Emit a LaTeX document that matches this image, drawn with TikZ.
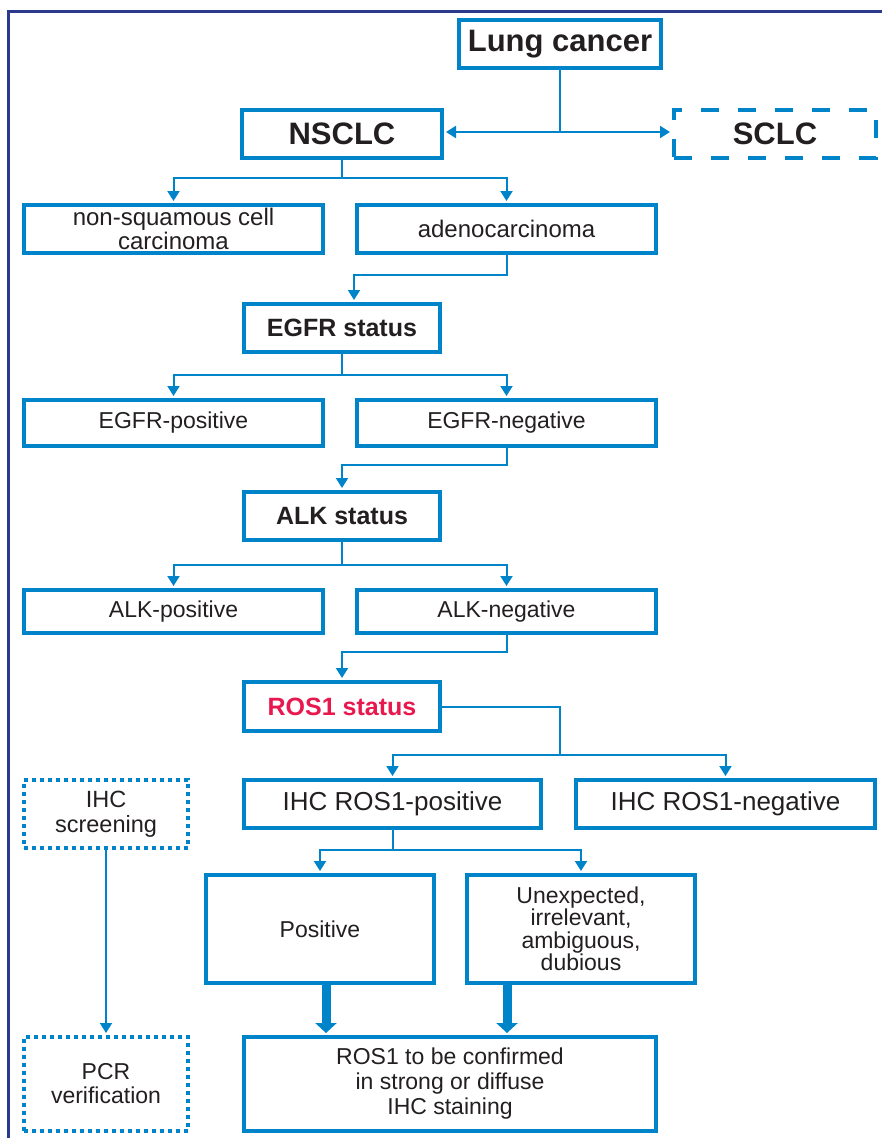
\documentclass[tikz,border=0pt]{standalone}
\usepackage{fontspec}
\setmainfont{Liberation Sans}
\usetikzlibrary{arrows.meta}
\definecolor{bl}{RGB}{0,132,201}
\definecolor{navy}{RGB}{43,58,140}
\definecolor{rosred}{RGB}{232,23,78}
\definecolor{txt}{RGB}{35,31,32}
\begin{document}
\begin{tikzpicture}[x=1pt,y=-1pt,
  box/.style={draw=bl, line width=4pt, inner sep=0pt, align=center, text=txt,
    font=\fontsize{23}{24}\selectfont},
  bbox/.style={box, font=\fontsize{25}{26}\selectfont\bfseries},
  hbox/.style={box, font=\fontsize{31}{32}\selectfont\bfseries},
  dashbox/.style={hbox, dash pattern=on 18pt off 19pt},
  dotbox/.style={box, dash pattern=on 4pt off 4pt},
  line/.style={draw=bl, line width=2pt},
  conn/.style={draw=bl, line width=2pt, shorten >=2pt, -{Triangle[length=10pt,width=12pt]}},
  fat/.style={draw=bl, line width=9pt, shorten >=2pt, -{Triangle[length=10pt,width=21pt]}},
]
\useasboundingbox (0,0) rectangle (882,1138);
\draw[navy, line width=3pt] (8,1142) -- (8,11.5) -- (886,11.5);

% nodes
\node[hbox, minimum width=202, minimum height=48] (lung) at (560,44) {Lung cancer};
\node[hbox, minimum width=200, minimum height=48] (nsclc) at (342,134) {NSCLC};
\node[dashbox, minimum width=202, minimum height=48] (sclc) at (775,134) {SCLC};
\node[box, minimum width=299, minimum height=48, font=\fontsize{24}{24}\selectfont] (nonsq) at (173.5,229) {non-squamous cell\\carcinoma};
\node[box, minimum width=299, minimum height=48, font=\fontsize{24}{24}\selectfont] (adeno) at (506.5,229) {adenocarcinoma};
\node[bbox, minimum width=196, minimum height=48] (egfr) at (342,328) {EGFR status};
\node[box, minimum width=299, minimum height=46] (egfrpos) at (173.5,423) {EGFR-positive};
\node[box, minimum width=299, minimum height=46] (egfrneg) at (506.5,423) {EGFR-negative};
\node[bbox, minimum width=196, minimum height=48] (alk) at (342,516) {ALK status};
\node[box, minimum width=299, minimum height=43] (alkpos) at (173.5,611.5) {ALK-positive};
\node[box, minimum width=299, minimum height=43] (alkneg) at (506.5,611.5) {ALK-negative};
\node[bbox, minimum width=196, minimum height=49, text=rosred] (ros) at (342,706.5) {ROS1 status};
\node[box, minimum width=297, minimum height=48, font=\fontsize{26}{26}\selectfont] (ihcpos) at (392.5,804) {IHC ROS1-positive};
\node[box, minimum width=299, minimum height=48, font=\fontsize{26}{26}\selectfont] (ihcneg) at (725.5,804) {IHC ROS1-negative};
\node[box, minimum width=228, minimum height=108] (pos) at (320,929) {Positive};
\node[box, minimum width=228, minimum height=108, font=\fontsize{23}{22.5}\selectfont] (unexp) at (581,929) {Unexpected,\\irrelevant,\\ambiguous,\\dubious};
\node[box, minimum width=412, minimum height=94, font=\fontsize{23}{25}\selectfont] (conf) at (450,1084) {ROS1 to be confirmed\\in strong or diffuse\\IHC staining};
\node[dotbox, minimum width=164, minimum height=68, font=\fontsize{23.5}{25}\selectfont] (ihcscr) at (106,814) {IHC\\screening};
\node[dotbox, minimum width=164, minimum height=94, font=\fontsize{23}{24}\selectfont] (pcr) at (106,1084) {PCR\\verification};

% connectors
\coordinate (j1) at (560,132);
\draw[line] (lung.south) -- (j1);
\draw[conn] (j1) -- (nsclc.east |- j1);
\draw[conn] (j1) -- (sclc.west |- j1);

\draw[line] (nsclc.south) -- ++(0,18) coordinate (j2);
\draw[conn] (j2) -| (nonsq.north);
\draw[conn] (j2) -| (adeno.north);

\draw[conn] (adeno.south) -- ++(0,20) -| ([xshift=12pt]egfr.north);

\draw[line] (egfr.south) -- ++(0,21) coordinate (j3);
\draw[conn] (j3) -| (egfrpos.north);
\draw[conn] (j3) -| (egfrneg.north);

\draw[conn] (egfrneg.south) -- ++(0,17) -| (alk.north);

\draw[line] (alk.south) -- ++(0,23) coordinate (j4);
\draw[conn] (j4) -| (alkpos.north);
\draw[conn] (j4) -| (alkneg.north);

\draw[conn] (alkneg.south) -- ++(0,17) -| (ros.north);

\coordinate (j5) at (560,755);
\draw[line] (ros.east) -| (j5);
\draw[conn] (j5) -| (ihcpos.north);
\draw[conn] (j5) -| (ihcneg.north);

\draw[line] (ihcpos.south) -- ++(0,20) coordinate (j6);
\draw[conn] (j6) -| (pos.north);
\draw[conn] (j6) -| (unexp.north);

\draw[fat] ([xshift=6pt]pos.south) -- ([xshift=6pt]pos.south |- conf.north);
\draw[fat] ([xshift=-74pt]unexp.south) -- ([xshift=-74pt]unexp.south |- conf.north);

\draw[conn] (ihcscr) -- (pcr);
\end{tikzpicture}
\end{document}
